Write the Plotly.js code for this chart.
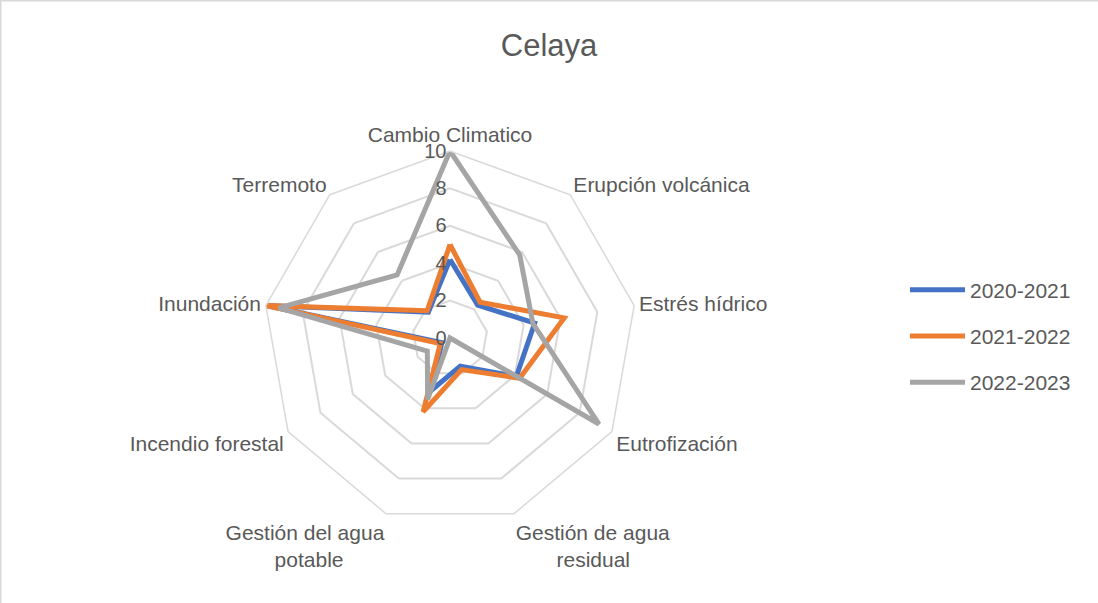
<!DOCTYPE html>
<html>
<head>
<meta charset="utf-8">
<script src="https://cdn.plot.ly/plotly-3.0.1.min.js"></script>
<style>
  html, body { margin: 0; padding: 0; background: #fff; }
  #plot { width: 1098px; height: 603px; }
</style>
</head>
<body>
<div id="plot"></div>
<script>
// categorias del radar (sentido horario desde arriba)
// los \u00a0 solo centran la segunda linea de las etiquetas de dos lineas
var categorias = ["Cambio Climatico", "Erupción volcánica", "Estrés hídrico", "Eutrofización",
  "Gestión de agua<br>\u00a0\u00a0\u00a0\u00a0\u00a0\u00a0\u00a0residual",
  "Gestión del agua<br>potable\u00a0\u00a0\u00a0\u00a0\u00a0\u00a0\u00a0",
  "Incendio forestal", "Inundación", "Terremoto"];

var v2020 = [4.2, 2.3, 4.6, 4.1, 1.6, 3.0, 0.5, 10, 1.8];
var v2021 = [5.0, 2.5, 6.2, 4.3, 1.8, 4.2, 0.6, 10, 1.9];
var v2022 = [10, 5.8, 4.5, 9.2, 0.0, 3.5, 1.4, 9.3, 4.4];

var series = ["2020-2021", "2021-2022", "2022-2023"];
var colores = ["#4472C4", "#ED7D31", "#A5A5A5"];
var valores = [v2020, v2021, v2022];

var gris = "#595959";
var fuente = "Liberation Sans, Arial, sans-serif";

var data = valores.map(function (v, i) {
  return {
    type: "scatterpolar",
    r: v.concat([v[0]]),
    theta: categorias.concat([categorias[0]]),
    mode: "lines",
    name: series[i],
    legendgroup: "g" + i,
    line: { color: colores[i], width: 5 },
    hoverinfo: "name+r+theta"
  };
});

var layout = {
  width: 1098,
  height: 603,
  margin: { l: 0, r: 0, t: 0, b: 0 },
  paper_bgcolor: "#fff",
  font: { family: fuente, color: gris, size: 18 },
  title: {
    text: "Celaya",
    font: { size: 31, color: gris, family: fuente },
    x: 0.5, xanchor: "center",
    y: 1 - 45 / 603, yanchor: "middle"
  },
  polar: {
    domain: { x: [263 / 1098, 637 / 1098], y: [1 - 525 / 603, 1 - 151 / 603] },
    gridshape: "linear",
    bgcolor: "#fff",
    angularaxis: {
      rotation: 90,
      direction: "clockwise",
      showgrid: false,
      showline: true,
      linecolor: "#d9d9d9",
      linewidth: 1.5,
      ticks: "",
      tickfont: { size: 21, color: gris }
    },
    radialaxis: {
      range: [0, 10],
      dtick: 2,
      angle: 90,
      tickangle: 90,
      side: "counterclockwise",
      showline: false,
      ticks: "",
      gridcolor: "#d9d9d9",
      gridwidth: 1.5,
      tickfont: { size: 20, color: gris }
    }
  },
  legend: {
    x: 905 / 1098, xanchor: "left",
    y: 1 - 336 / 603, yanchor: "middle",
    traceorder: "grouped",
    tracegroupgap: 16,
    itemwidth: 55,
    font: { size: 21, color: gris },
    bgcolor: "rgba(0,0,0,0)"
  },
  shapes: [
    { type: "line", xref: "paper", yref: "paper", x0: 0, x1: 1, y0: 1, y1: 1, line: { color: "#d9d9d9", width: 3 } },
    { type: "line", xref: "paper", yref: "paper", x0: 0, x1: 0, y0: 0, y1: 1, line: { color: "#d9d9d9", width: 3 } }
  ]
};

Plotly.newPlot("plot", data, layout, { displayModeBar: false });
</script>
</body>
</html>
